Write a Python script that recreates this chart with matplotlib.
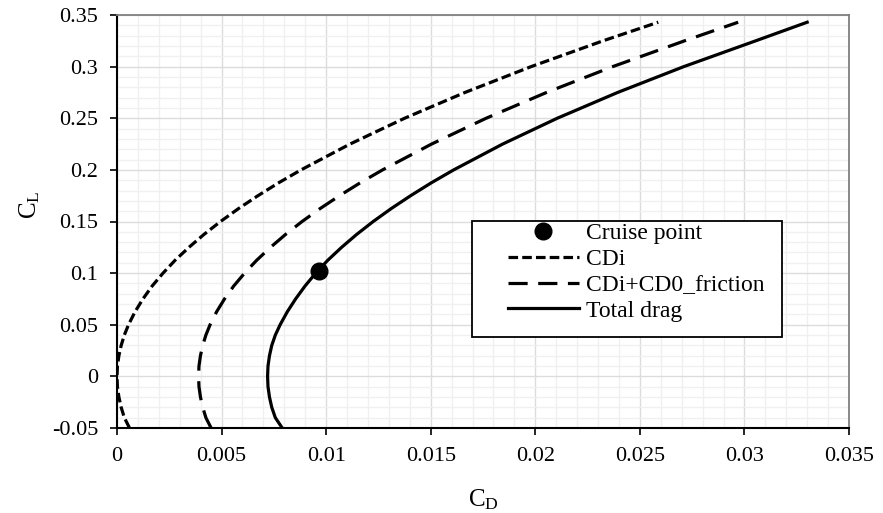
import matplotlib
matplotlib.use("Agg")
import matplotlib.pyplot as plt
from matplotlib.ticker import MultipleLocator
from matplotlib.patches import Rectangle

# 字体: Times 风格
plt.rcParams['font.family'] = ['Liberation Serif', 'DejaVu Serif']
plt.rcParams['mathtext.fontset'] = 'custom'
plt.rcParams['mathtext.rm'] = 'Liberation Serif'
plt.rcParams['mathtext.it'] = 'Liberation Serif:italic'

# 升力系数 (纵轴)
cl = [-0.05, -0.04, -0.03, -0.02, -0.01, 0.0, 0.01, 0.02, 0.03, 0.04, 0.05,
      0.0625, 0.075, 0.0875, 0.1, 0.1125, 0.125, 0.1375, 0.15, 0.1625, 0.175,
      0.1875, 0.2, 0.225, 0.25, 0.275, 0.3, 0.325, 0.343]

# 诱导阻力
cd_i = [0.0006, 0.00035, 0.0002, 0.00009, 0.00002, 0.0, 0.00002, 0.00009, 0.0002,
        0.00035, 0.00055, 0.00086, 0.00124, 0.00168, 0.0022, 0.00278, 0.00344,
        0.00416, 0.00495, 0.00581, 0.00674, 0.00773, 0.0088, 0.01114, 0.01375,
        0.01664, 0.0198, 0.02324, 0.02588]

# 诱导阻力 + 摩擦阻力
cd_i_f = [0.0045, 0.00425, 0.0041, 0.00399, 0.00392, 0.0039, 0.00392, 0.00399,
          0.0041, 0.00425, 0.00445, 0.00476, 0.00514, 0.00558, 0.0061, 0.00668,
          0.00734, 0.00806, 0.00885, 0.00971, 0.01064, 0.01163, 0.0127, 0.01504,
          0.01765, 0.02054, 0.0237, 0.02714, 0.0297]

# 总阻力
cd_total = [0.0079, 0.00757, 0.0074, 0.00729, 0.00722, 0.0072, 0.00722, 0.00729,
            0.0074, 0.00757, 0.0078, 0.00814, 0.00854, 0.00899, 0.0095, 0.01008,
            0.01074, 0.01146, 0.01225, 0.01311, 0.01404, 0.01503, 0.0161, 0.01844,
            0.02105, 0.02394, 0.0271, 0.03054, 0.033]

# 巡航点
cruise_cd = [0.00967]
cruise_cl = [0.1023]

fig = plt.figure(figsize=(8.83, 5.13), dpi=100)
ax = fig.add_axes([117 / 883, 1 - 428 / 513, 732 / 883, 413 / 513])

ax.plot(cd_i, cl, color='black', lw=2.3, dashes=(3.0, 1.3), label='CDi', zorder=3)
ax.plot(cd_i_f, cl, color='black', lw=2.3, dashes=(6.0, 3.3), label='CDi+CD0_friction', zorder=3)
ax.plot(cd_total, cl, color='black', lw=2.3, label='Total drag', zorder=3)
ax.plot(cruise_cd, cruise_cl, 'o', color='black', ms=12, label='Cruise point', zorder=4)

ax.set_xlim(0, 0.035)
ax.set_ylim(-0.05, 0.35)
ax.xaxis.set_major_locator(MultipleLocator(0.005))
ax.xaxis.set_minor_locator(MultipleLocator(0.001))
ax.yaxis.set_major_locator(MultipleLocator(0.05))
ax.yaxis.set_minor_locator(MultipleLocator(0.01))

# 刻度标签格式, 去掉多余的零
fmt = lambda v, p: ('%.3f' % v).rstrip('0').rstrip('.') if abs(v) > 1e-12 else '0'
ax.xaxis.set_major_formatter(plt.FuncFormatter(fmt))
ax.yaxis.set_major_formatter(plt.FuncFormatter(fmt))

ax.grid(which='major', color='#dcdcdc', lw=1.0, zorder=0)
ax.grid(which='minor', color='#f0f0f0', lw=1.0, zorder=0)
ax.set_axisbelow(True)

ax.tick_params(which='major', direction='out', length=5, width=1.2, pad=8.5,
               labelsize=16, colors='black')
ax.tick_params(which='minor', length=0)

for s in ['left', 'bottom']:
    ax.spines[s].set_color('black')
    ax.spines[s].set_linewidth(1.5)
for s in ['top', 'right']:
    ax.spines[s].set_color('#808080')
    ax.spines[s].set_linewidth(1.3)

ax.set_xlabel('C$_\\mathrm{D}$', fontsize=18)
ax.set_ylabel('C$_\\mathrm{L}$', fontsize=18)
ax.xaxis.set_label_coords(0.5, -0.145)
ax.yaxis.set_label_coords(-0.103, 0.54)

# 图例边框单独画
ax.add_patch(Rectangle((0.4845, 0.2211), 0.9085 - 0.4845, 0.502 - 0.2211,
                       transform=ax.transAxes, facecolor='white', edgecolor='black',
                       lw=1.3, zorder=5))

handles, labels = ax.get_legend_handles_labels()
order = [3, 0, 1, 2]
leg = ax.legend([handles[i] for i in order], [labels[i] for i in order],
                loc='upper left', bbox_to_anchor=(0.534, 0.497), frameon=False,
                fontsize=17, handlelength=3.0, handletextpad=0.3, labelspacing=0.18,
                borderpad=0, borderaxespad=0)
leg.set_zorder(6)

fig.savefig('out.png', dpi=100)
